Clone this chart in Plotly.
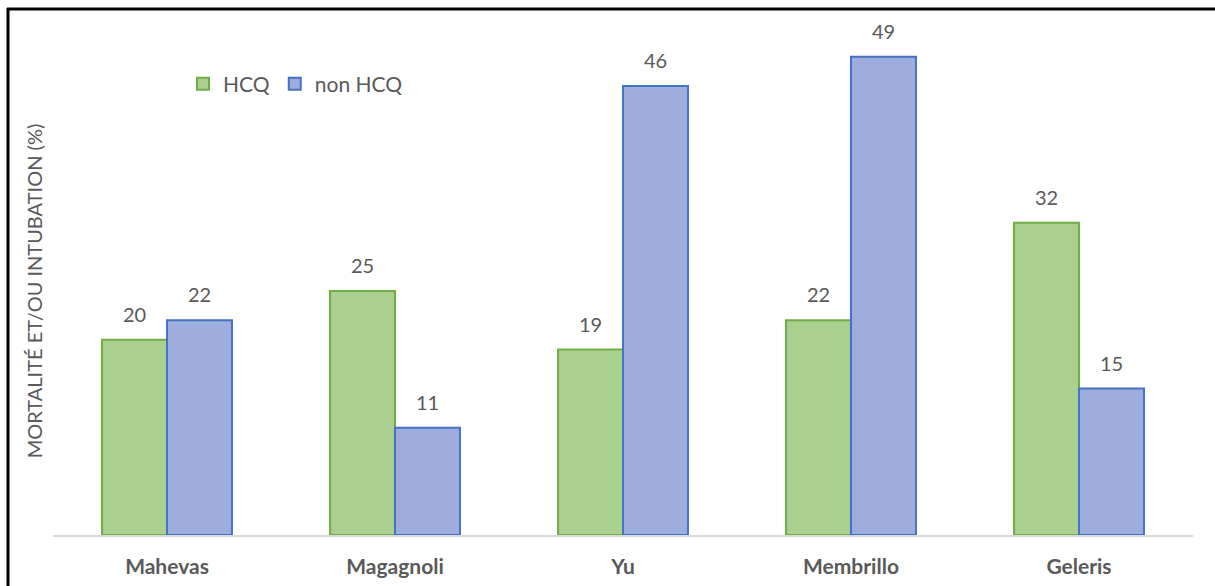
import plotly.graph_objects as go

categories = ["Mahevas", "Magagnoli", "Yu", "Membrillo", "Geleris"]
hcq = [20, 25, 19, 22, 32]
non_hcq = [22, 11, 46, 49, 15]
series_names = ["HCQ", "non HCQ"]

W, H = 1215, 586
L, R, T, B = 53, 22, 47, 51
plot_w = W - L - R
plot_h = H - T - B
YMAX = 50

green_fill = "#A9D08E"
green_line = "#70AD47"
blue_fill = "#9DAEDE"
blue_line = "#4472C4"
gray = "#595959"
font_family = "Lato, 'Open Sans', sans-serif"

fig = go.Figure()
fig.add_trace(go.Bar(x=categories, y=hcq, name=series_names[0],
                     marker=dict(color=green_fill, line=dict(color=green_line, width=2))))
fig.add_trace(go.Bar(x=categories, y=non_hcq, name=series_names[1],
                     marker=dict(color=blue_fill, line=dict(color=blue_line, width=2))))

bar_px = plot_w / len(categories) * (1 - 0.43) / 2
annotations = []
for series, sign in ((hcq, -1), (non_hcq, 1)):
    for c, v in zip(categories, series):
        annotations.append(dict(x=c, y=v, xref="x", yref="y", text=str(v),
                                showarrow=False, xshift=sign * bar_px / 2,
                                yanchor="bottom", yshift=12,
                                font=dict(size=20, color=gray, family=font_family)))

px2x = lambda p: (p - L) / plot_w
px2y = lambda p: (H - B - p) / plot_h
shapes = [
    dict(type="line", xref="paper", yref="paper", x0=px2x(8), x1=px2x(8),
         y0=px2y(H + 10), y1=px2y(8), line=dict(color="black", width=3)),
    dict(type="line", xref="paper", yref="paper", x0=px2x(7), x1=px2x(W + 10),
         y0=px2y(9), y1=px2y(9), line=dict(color="black", width=3)),
]

fig.update_layout(
    width=W, height=H,
    margin=dict(l=L, r=R, t=T, b=B, autoexpand=False),
    paper_bgcolor="white", plot_bgcolor="white",
    barmode="group", bargap=0.43, bargroupgap=0,
    font=dict(family=font_family, color=gray),
    showlegend=True,
    legend=dict(orientation="h", x=px2x(183), y=px2y(84), xanchor="left", yanchor="middle",
                font=dict(size=21, color=gray, family=font_family),
                bgcolor="rgba(0,0,0,0)", itemwidth=30, traceorder="normal"),
    xaxis=dict(showline=True, linecolor="#D9D9D9", linewidth=2, ticks="",
               ticklabelstandoff=12, automargin=False,
               tickfont=dict(size=21, color=gray, family="Lato, sans-serif", weight="bold"),
               showgrid=False),
    yaxis=dict(range=[0, YMAX], visible=True, showticklabels=False, showgrid=False,
               zeroline=False, showline=False, ticks="", automargin=False,
               title=dict(text="MORTALITÉ ET/OU INTUBATION (%)", standoff=4,
                          font=dict(size=20, color=gray, family=font_family))),
    annotations=annotations,
    shapes=shapes,
)

fig.write_html("out.html")
